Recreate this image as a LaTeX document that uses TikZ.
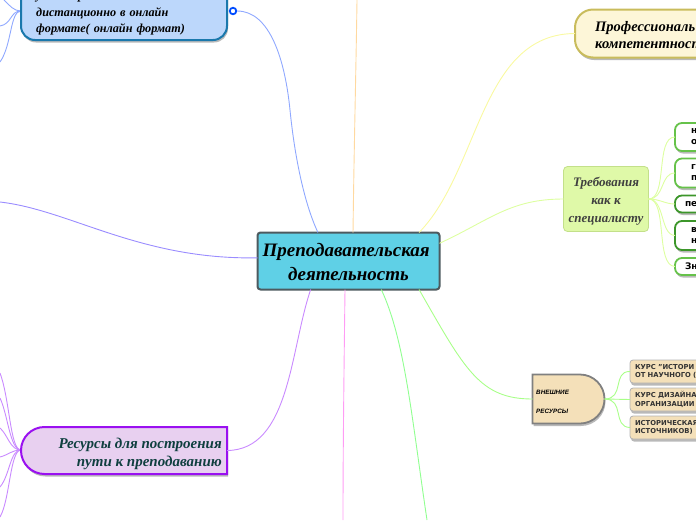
\documentclass[tikz,border=0pt]{standalone}
\usepackage{fontspec}
\setmainfont{Liberation Serif}
\setsansfont{DejaVu Sans}
\newfontfamily\extfont{Liberation Sans}
\newfontfamily\widefont[WordSpace=1.3]{Liberation Serif}
\usepackage{xcolor}
\usetikzlibrary{positioning, shapes.misc, shadows}
\definecolor{mainfill}{HTML}{5FD0E6}
\definecolor{mainedge}{HTML}{4D5A5F}
\definecolor{bluefill}{HTML}{BCD7FB}
\definecolor{blueedge}{HTML}{1A78AC}
\definecolor{creamfill}{HTML}{FDF6D8}
\definecolor{creamedge}{HTML}{C9BC5C}
\definecolor{limefill}{HTML}{DFF9A8}
\definecolor{limeedge}{HTML}{C3E08A}
\definecolor{sandfill}{HTML}{F4E0B9}
\definecolor{lilacfill}{HTML}{E8D0F0}
\definecolor{lilacedge}{HTML}{9A10F0}
\definecolor{tealtext}{HTML}{0F3F3F}
\definecolor{kidlight}{HTML}{66C24A}
\definecolor{kiddark}{HTML}{3C962A}
\definecolor{wireblue}{HTML}{8FA8FF}
\definecolor{wireorange}{HTML}{FFD9A0}
\definecolor{wireyellow}{HTML}{F9F9A0}
\definecolor{wirelime}{HTML}{DDFFA0}
\definecolor{wiregreen}{HTML}{A8FF88}
\definecolor{wirebottom}{HTML}{90FF90}
\definecolor{wirepink}{HTML}{FF9CF5}
\definecolor{wirepurple}{HTML}{C98AFF}
\definecolor{wirewest}{HTML}{9A8CFF}

\begin{document}
\begin{tikzpicture}[
    x=1pt, y=-1pt,
    softshadow/.style={drop shadow={shadow xshift=1pt, shadow yshift=-2.5pt, fill=black!50, opacity=.55}},
    topic/.style={font=\fontsize{14.5}{17.5}\selectfont\bfseries\itshape, align=left, anchor=west},
    kid/.style={line width=1.8pt, fill=white, rounded corners=7pt, softshadow,
        anchor=west, align=left, text width=60pt, inner ysep=0pt, outer sep=0pt,
        font=\fontsize{9}{11}\selectfont\sffamily\bfseries},
    course/.style={draw=black!30, fill=sandfill, line width=.8pt, rounded corners=3pt, softshadow,
        anchor=west, align=left, text width=80pt, inner xsep=5pt, inner ysep=0pt, outer sep=0pt,
        minimum height=23pt, text=black!80, font=\fontsize{6.8}{8.4}\selectfont\sffamily\bfseries},
    wire/.style={line width=.9pt}
    ]
\useasboundingbox (0,0) rectangle (696,520);
\clip (0,0) rectangle (696,520);

\coordinate (online) at (21,11);
\coordinate (outA) at (4,0);
\coordinate (outB) at (0,26);
\coordinate (outC) at (0,62);
\coordinate (top) at (357,0);
\coordinate (west) at (0,202);
\coordinate (bottomA) at (343,520);
\coordinate (bottomB) at (427,520);
\coordinate (pathA) at (0,373);
\coordinate (pathB) at (0,398);
\coordinate (pathC) at (0,428);
\coordinate (pathD) at (0,457);
\coordinate (pathE) at (0,487);
\coordinate (pathF) at (0,517);
\coordinate (pathhub) at (21,450);

\draw[wire, draw=wireblue] (online) .. controls (14,11) and (10,6) .. (outA);
\draw[wire, draw=wireblue] (online) .. controls (10,11) and (12,24) .. (outB);
\draw[wire, draw=wireblue] (online) .. controls (10,11) and (12,45) .. (outC);

\draw[wire, draw=wirepurple] (pathhub) .. controls (10,450) and (10,400) .. (pathA);
\draw[wire, draw=wirepurple] (pathhub) .. controls (10,450) and (8,415) .. (pathB);
\draw[wire, draw=wirepurple] (pathhub) .. controls (10,450) and (8,435) .. (pathC);
\draw[wire, draw=wirepurple] (pathhub) .. controls (12,450) and (8,455) .. (pathD);
\draw[wire, draw=wirepurple] (pathhub) .. controls (10,450) and (10,475) .. (pathE);
\draw[wire, draw=wirepurple] (pathhub) .. controls (10,450) and (10,500) .. (pathF);

\node[draw=mainedge, line width=2pt, fill=mainfill, rounded corners=3pt, minimum width=182pt, minimum height=57pt,
    inner sep=0pt, outer sep=0pt, align=center, font=\fontsize{19}{24}\selectfont\bfseries\itshape]
    (main) at (348.5,261) {\rule{0pt}{16pt}Преподавательская~~\\деятельность};

\node[draw=blueedge, line width=2pt, fill=bluefill, rounded corners=14pt, softshadow, minimum width=206pt,
    minimum height=72pt, inner sep=0pt, outer sep=0pt] (online box) at (124,4) {};
\node[topic, font=\fontsize{12.2}{16.5}\widefont\bfseries\itshape, inner sep=0pt] (online text) at (36,13)
    {умение работать\\дистанционно в онлайн\\формате( онлайн формат)};
\node[circle, draw=blue!70!cyan, line width=1.8pt, fill=white, minimum size=6.5pt, inner sep=0pt] (mark) at (233,11) {};

\node[draw=creamedge, line width=2pt, fill=creamfill, rounded corners=18pt, softshadow, minimum width=170pt,
    minimum height=48pt, inner sep=0pt, outer sep=0pt, anchor=west] (skills) at (575,33.5) {};
\node[topic, inner sep=0pt] (skills text) at (595,35) {Профессиональ\\компетентност};

\node[draw=limeedge, line width=.8pt, fill=limefill, rounded corners=4pt, minimum width=85pt, minimum height=65pt,
    inner sep=0pt, outer sep=0pt, align=center, text=black!75, font=\fontsize{13}{18}\selectfont\bfseries\itshape]
    (needs) at (606,199) {\rule{0pt}{13pt}Требования\\как к\\специалисту};

\node[kid, draw=kidlight, minimum height=28pt, inner xsep=16pt] (kidA) at (675,137) {н\\о};
\node[kid, draw=kidlight, minimum height=29pt, inner xsep=16pt] (kidB) at (675,173) {г\\п};
\node[kid, draw=kiddark, minimum height=17pt, inner xsep=10pt] (kidC) at (675,204) {пе};
\node[kid, draw=kiddark, minimum height=29pt, inner xsep=16pt] (kidD) at (675,235.5) {в\\н};
\node[kid, draw=kidlight, minimum height=17pt, inner xsep=10pt] (kidE) at (675,266.5) {Зн};

\node[rounded rectangle, rounded rectangle west arc=none, draw=black!50, line width=1.8pt, fill=sandfill, softshadow,
    minimum width=72pt, minimum height=49pt, inner sep=0pt, outer sep=0pt] (external) at (568.5,399) {};
\node[inner sep=0pt, anchor=west, align=left, font=\fontsize{6.3}{19}\extfont\itshape\bfseries] (external text) at (536,401.5)
    {ВНЕШНИЕ\\РЕСУРСЫ};

\node[course] (courseA) at (630,371.5) {КУРС "ИСТОРИ\\ОТ НАУЧНОГО (};
\node[course] (courseB) at (630,399.5) {КУРС ДИЗАЙНА\\ОРГАНИЗАЦИИ};
\node[course] (courseC) at (630,427.5) {ИСТОРИЧЕСКАЯ\\ИСТОЧНИКОВ)};

\node[rounded rectangle, rounded rectangle east arc=none, draw=lilacedge, line width=2pt, fill=lilacfill, softshadow,
    minimum width=206pt, minimum height=47pt, inner sep=0pt, outer sep=0pt] (path box) at (124,450.5) {};
\node[inner sep=0pt, anchor=east, align=right, text=tealtext, font=\fontsize{15}{18}\selectfont\bfseries\itshape]
    (path text) at (222,453.5) {Ресурсы для построения~\\пути к преподаванию};

\draw[wire, draw=wireblue] (mark.east) .. controls (270,11) and (285,60) .. (290,110) .. controls (295,160) and (305,205) .. (main.137);
\draw[wire, draw=wireorange] (main.81) .. controls (354,150) and (356,70) .. (top);
\draw[wire, draw=wireyellow] (main.22) .. controls (480,170) and (480,34) .. (skills.west);
\draw[wire, draw=wirelime] (main.11.7) .. controls (490,220) and (510,199) .. (needs.west);
\draw[wire, draw=wiregreen] (main.-22.6) .. controls (465,370) and (480,399) .. (external.west);
\draw[wire, draw=wirebottom] (main.-41) .. controls (405,340) and (412,420) .. (bottomB);
\draw[wire, draw=wirepink] (main.263) .. controls (344,370) and (343,450) .. (bottomA);
\draw[wire, draw=wirepurple] (main.217) .. controls (290,350) and (290,450) .. (path box.east);
\draw[wire, draw=wirewest] (main.178) .. controls (140,260) and (70,210) .. (west);

\draw[wire, draw=wirelime] (needs.east) .. controls (668,199) and (655,137) .. (kidA.west);
\draw[wire, draw=wirelime] (needs.east) .. controls (665,199) and (660,173) .. (kidB.west);
\draw[wire, draw=wirelime] (needs.east) .. controls (660,199) and (665,204) .. (kidC.west);
\draw[wire, draw=wirelime] (needs.east) .. controls (665,199) and (660,235) .. (kidD.west);
\draw[wire, draw=wirelime] (needs.east) .. controls (668,199) and (655,266) .. (kidE.west);

\draw[wire, draw=wiregreen] (external.east) .. controls (625,399) and (612,371) .. (courseA.west);
\draw[wire, draw=wiregreen] (external.east) -- (courseB.west);
\draw[wire, draw=wiregreen] (external.east) .. controls (625,399) and (612,427) .. (courseC.west);
\end{tikzpicture}
\end{document}
